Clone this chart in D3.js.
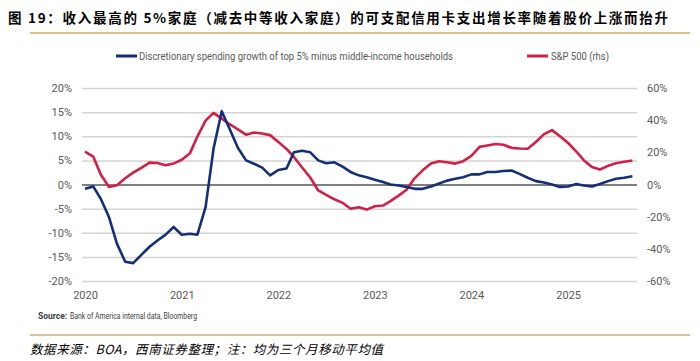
<!DOCTYPE html>
<html><head><meta charset="utf-8">
<script src="https://cdn.jsdelivr.net/npm/d3@7"></script>
<style>
body{margin:0;background:#fff;}
svg{display:block;}
.tk text{font-family:"Liberation Sans Narrow","Roboto","Liberation Sans",sans-serif;font-size:11px;fill:#595959;}
</style></head>
<body><svg id="c" width="700" height="361"></svg>
<script>
const startMonth = "2020-01";
const years = [2020, 2021, 2022, 2023, 2024, 2025];
const leftTicks = [-20, -15, -10, -5, 0, 5, 10, 15, 20];
const rightTicks = [-60, -40, -20, 0, 20, 40, 60];
const spendingGap = [-0.9,-0.4,-3.0,-6.8,-12.3,-16.0,-16.3,-14.6,-12.9,-11.6,-10.4,-8.8,
 -10.4,-10.2,-10.4,-4.7,7.4,15.2,11.5,7.6,5.0,4.3,3.5,1.9,
 3.0,3.3,6.7,7.0,6.7,5.0,4.4,4.6,3.7,2.6,1.9,1.5,
 1.0,0.5,0.0,-0.2,-0.5,-0.9,-0.9,-0.4,0.2,0.8,1.2,1.5,
 2.1,2.1,2.6,2.6,2.8,2.9,2.2,1.4,0.7,0.4,0.0,-0.5,
 -0.4,0.1,-0.2,-0.4,0.1,0.7,1.2,1.4,1.7];
const sp500 = [20.5,17.4,6.0,-1.5,-0.5,3.9,7.4,10.3,13.6,13.4,12.0,13.0,
 15.4,19.5,29.8,39.7,44.5,41.0,37.5,34.3,31.0,32.3,31.7,30.7,
 26.5,22.1,17.1,10.6,4.5,-3.7,-6.5,-9.2,-11.4,-15.1,-14.1,-15.6,
 -13.5,-13.1,-10.3,-6.9,-3.3,4.0,8.8,13.1,14.5,13.8,13.0,14.5,
 17.8,23.4,24.3,25.2,24.7,22.8,22.4,22.2,26.4,31.2,33.8,30.0,
 25.8,20.5,15.1,10.9,9.3,11.6,13.2,14.1,14.9];
const seriesNames = ["Discretionary spending growth of top 5% minus middle-income households", "S&P 500 (rhs)"];

const parse = d3.timeParse("%Y-%m");
const t0 = parse(startMonth);
const dates = spendingGap.map((_, i) => d3.timeMonth.offset(t0, i));

const svg = d3.select("#c");
const blue = "#132f78", red = "#d21f45";
const gx0 = 82, gx1 = 637;

const x = d3.scaleTime().domain([t0, dates[dates.length - 1]]).range([85, 632.4]);
const yL = d3.scaleLinear().domain([-20, 20]).range([281, 88]);
const yR = d3.scaleLinear().domain([-60, 60]).range([281, 88]);

// title
svg.append("text").attr("x", 8).attr("y", 23)
  .attr("font-family", "'Noto Sans CJK SC',sans-serif").attr("font-weight", "bold")
  .attr("font-size", 13.5).attr("fill", "#000")
  .attr("textLength", 660).attr("lengthAdjust", "spacing")
  .text("图 19：收入最高的 5%家庭（减去中等收入家庭）的可支配信用卡支出增长率随着股价上涨而抬升");
svg.append("line").attr("x1", 30).attr("x2", 690).attr("y1", 33).attr("y2", 33)
  .attr("stroke", "#d2ab72").attr("stroke-width", 1.5);

// grid + left axis
const gL = svg.append("g").attr("class", "tk").attr("transform", `translate(${gx0},0)`)
  .call(d3.axisLeft(yL).tickValues(leftTicks).tickSize(-(gx1 - gx0)).tickPadding(10).tickFormat(d => d + "%"));
gL.select(".domain").remove();
gL.selectAll(".tick line").attr("stroke", d => d === 0 ? "#555" : "#d3d3d3").attr("stroke-width", d => d === 0 ? 1.3 : 1.5);
gL.selectAll(".tick").filter(d => d === 0).raise();

const gR = svg.append("g").attr("class", "tk").attr("transform", `translate(${gx1},0)`)
  .call(d3.axisRight(yR).tickValues(rightTicks).tickSize(0).tickPadding(10).tickFormat(d => d + "%"));
gR.select(".domain").remove();

const gB = svg.append("g").attr("class", "tk").attr("transform", "translate(0,281)")
  .call(d3.axisBottom(x).tickValues(years.map(y => new Date(y, 0, 1))).tickSize(0).tickPadding(10).tickFormat(d3.timeFormat("%Y")));
gB.select(".domain").remove();
gB.selectAll("text").attr("font-size", 12);

// lines
svg.append("path").datum(sp500)
  .attr("fill", "none").attr("stroke", red).attr("stroke-width", 2.6).attr("stroke-linejoin", "round")
  .attr("d", d3.line().x((d, i) => x(dates[i])).y(d => yR(d)));
svg.append("path").datum(spendingGap)
  .attr("fill", "none").attr("stroke", blue).attr("stroke-width", 2.6).attr("stroke-linejoin", "round")
  .attr("d", d3.line().x((d, i) => x(dates[i])).y(d => yL(d)));

// legend
const lf = "'Liberation Sans Narrow','Roboto','Liberation Sans',sans-serif";
svg.append("line").attr("x1", 116).attr("x2", 137).attr("y1", 56).attr("y2", 56).attr("stroke", blue).attr("stroke-width", 3);
svg.append("text").attr("x", 139).attr("y", 60).attr("font-family", lf).attr("font-size", 11.5).attr("fill", "#595959")
  .attr("textLength", 314).attr("lengthAdjust", "spacingAndGlyphs").text(seriesNames[0]);
svg.append("line").attr("x1", 527).attr("x2", 548).attr("y1", 56).attr("y2", 56).attr("stroke", red).attr("stroke-width", 3);
svg.append("text").attr("x", 551).attr("y", 60).attr("font-family", lf).attr("font-size", 11.5).attr("fill", "#595959")
  .attr("textLength", 58).attr("lengthAdjust", "spacingAndGlyphs").text(seriesNames[1]);

// source
svg.append("text").attr("x", 38).attr("y", 319).attr("font-family", lf).attr("font-size", 8.5).attr("fill", "#404040")
  .attr("font-weight", "bold").text("Source:");
svg.append("text").attr("x", 70).attr("y", 319).attr("font-family", lf).attr("font-size", 8.5).attr("fill", "#404040")
  .attr("textLength", 127).attr("lengthAdjust", "spacingAndGlyphs").text("Bank of America internal data, Bloomberg");

svg.append("line").attr("x1", 30).attr("x2", 690).attr("y1", 335).attr("y2", 335)
  .attr("stroke", "#d2ab72").attr("stroke-width", 1.5);
svg.append("text").attr("x", 30).attr("y", 354)
  .attr("font-family", "'Noto Sans CJK SC',sans-serif").attr("font-style", "italic")
  .attr("font-size", 12.5).attr("fill", "#000")
  .attr("textLength", 353).attr("lengthAdjust", "spacing")
  .text("数据来源：BOA，西南证券整理；注：均为三个月移动平均值");
</script></body></html>
